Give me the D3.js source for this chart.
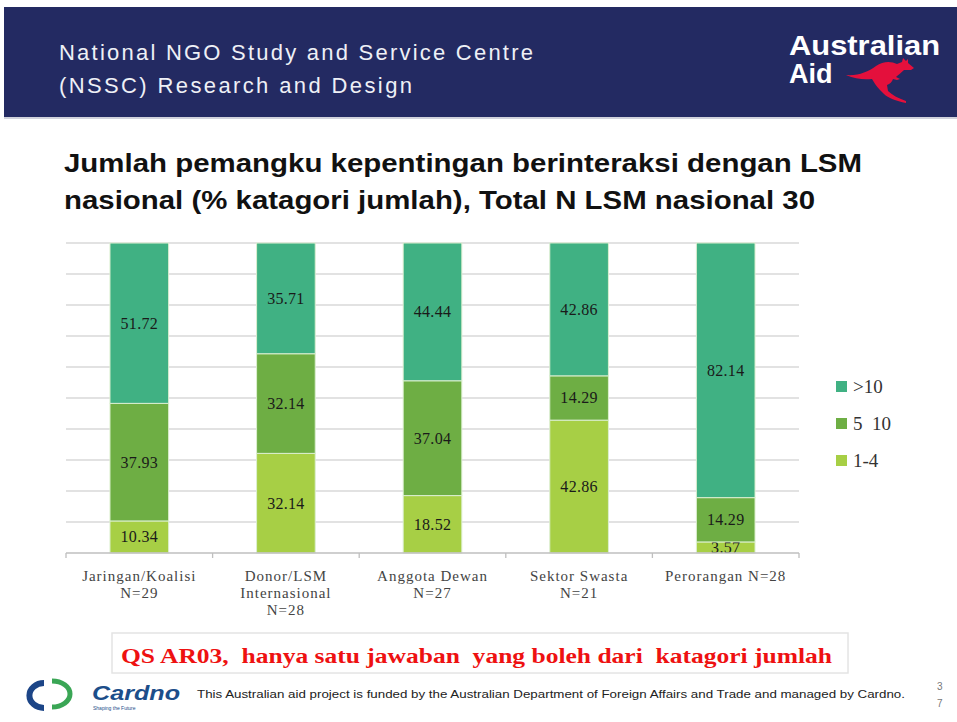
<!DOCTYPE html>
<html>
<head>
<meta charset="utf-8">
<script src="https://cdn.jsdelivr.net/npm/d3@7"></script>
<style>
  body { margin: 0; background: #fff; }
  svg { display: block; }
</style>
</head>
<body>
<svg id="chart" width="957" height="722"></svg>
<script>
// data
const categories = ["Jaringan/Koalisi", "Donor/LSM Internasional", "Anggota Dewan", "Sektor Swasta", "Perorangan"];
const cat_lines = [["Jaringan/Koalisi", "N=29"], ["Donor/LSM", "Internasional", "N=28"], ["Anggota Dewan", "N=27"], ["Sektor Swasta", "N=21"], ["Perorangan N=28"]];
const series_names = ["1-4", "5  10", ">10"];
const low_vals = [10.34, 32.14, 18.52, 42.86, 3.57];
const mid_vals = [37.93, 32.14, 37.04, 14.29, 14.29];
const high_vals = [51.72, 35.71, 44.44, 42.86, 82.14];
const y_ticks = [0, 10, 20, 30, 40, 50, 60, 70, 80, 90, 100];
const colors = ["#a7cf45", "#6eae44", "#40b183"];

const svg = d3.select("#chart");
const sans = "Liberation Sans, Arial, sans-serif";
const serif = "Liberation Serif, 'DejaVu Serif', serif";

// header band
svg.append("rect").attr("x", 4).attr("y", 7).attr("width", 953).attr("height", 110).attr("fill", "#232a62");
svg.append("rect").attr("x", 4).attr("y", 117).attr("width", 953).attr("height", 2).attr("fill", "#d0d2dc");
const head = svg.append("g").attr("fill", "#eef0f6")
    .style("font-family", sans).style("font-size", "22px");
head.append("text").attr("x", 59).attr("y", 60).attr("textLength", 474).attr("lengthAdjust", "spacing").text("National NGO Study and Service Centre");
head.append("text").attr("x", 59).attr("y", 93).attr("textLength", 353).attr("lengthAdjust", "spacing").text("(NSSC) Research and Design");

// Australian Aid logo
const logo = svg.append("g").style("font-family", sans)
    .style("font-weight", "bold").attr("fill", "#fff");
logo.append("text").attr("x", 789).attr("y", 55).style("font-size", "27px")
    .attr("textLength", 151).attr("lengthAdjust", "spacingAndGlyphs").text("Australian");
logo.append("text").attr("x", 789).attr("y", 83).style("font-size", "27px").text("Aid");
// kangaroo (rough silhouette): tail left, head right, legs down
svg.append("path").attr("fill", "#e4103c")
    .attr("d", "M846,75 C858,76 868,72 876,66 C883,61 891,61 897,64 L902,62 L903,58 L906,61 L908,59 L908,63 L914,68 L911,70 L904,70 C901,73 898,75 896,77 L900,79 L897,80 L893,79 C892,82 890,84 887,85 L888,91 C892,95 898,98 906,101 L906,103 C896,101 888,98 884,94 L880,90 C876,86 874,82 872,79 C864,80 855,79 846,75 Z");

// title
const title = svg.append("g").attr("fill", "#111")
    .style("font-family", sans).style("font-weight", "bold").style("font-size", "25px");
title.append("text").attr("x", 64).attr("y", 172).attr("textLength", 798).attr("lengthAdjust", "spacingAndGlyphs")
    .text("Jumlah pemangku kepentingan berinteraksi dengan LSM");
title.append("text").attr("x", 64).attr("y", 209).attr("textLength", 751).attr("lengthAdjust", "spacingAndGlyphs")
    .text("nasional (% katagori jumlah), Total N LSM nasional 30");

// scales
const x = d3.scaleBand().domain(categories).range([66, 799]).paddingInner(0.6).paddingOuter(0.3);
const y = d3.scaleLinear().domain([0, 100]).range([553, 243]);

// gridlines
svg.append("g").selectAll("line").data(y_ticks.slice(1)).enter().append("line")
    .attr("x1", 66).attr("x2", 799)
    .attr("y1", d => y(d)).attr("y2", d => y(d))
    .attr("stroke", "#d9d9d9").attr("stroke-width", 1.3);

// stacked bars
const rows = categories.map((c, i) => ({cat: c, "1-4": low_vals[i], "5  10": mid_vals[i], ">10": high_vals[i]}));
const stacked = d3.stack().keys(series_names)(rows);

stacked.forEach((layer, li) => {
    const g = svg.append("g");
    g.selectAll("rect").data(layer).enter().append("rect")
        .attr("x", d => x(d.data.cat))
        .attr("width", x.bandwidth())
        .attr("y", d => y(d[1]))
        .attr("height", d => y(d[0]) - y(d[1]))
        .attr("fill", colors[li])
        .attr("stroke", "#dcefd0").attr("stroke-width", 1);
    g.selectAll("text").data(layer).enter().append("text")
        .attr("x", d => x(d.data.cat) + x.bandwidth() / 2)
        .attr("y", d => (y(d[0]) + y(d[1])) / 2 + 5.5)
        .attr("text-anchor", "middle")
        .attr("fill", "#1a1a1a")
        .style("font-family", serif).style("font-size", "16px").style("letter-spacing", "0.3px")
        .text(d => (d[1] - d[0]).toFixed(2));
});

// x axis
const axis = svg.append("g");
axis.append("line").attr("x1", 66).attr("x2", 799).attr("y1", 553).attr("y2", 553).attr("stroke", "#bfbfbf").attr("stroke-width", 1.3);
const edges = d3.range(categories.length + 1).map(i => 66 + i * (733 / categories.length));
axis.selectAll("line.tick").data(edges).enter().append("line").attr("class", "tick")
    .attr("x1", d => d).attr("x2", d => d).attr("y1", 553).attr("y2", 558)
    .attr("stroke", "#bfbfbf").attr("stroke-width", 1.3);
categories.forEach((c, i) => {
    const t = axis.append("text").attr("text-anchor", "middle").attr("fill", "#444")
        .style("font-family", serif).style("font-size", "15px").style("letter-spacing", "1px");
    cat_lines[i].forEach((ln, j) => {
        t.append("tspan").attr("x", x(c) + x.bandwidth() / 2).attr("y", 581 + j * 17).text(ln);
    });
});

// legend
const legend_order = [">10", "5  10", "1-4"];
const lg = svg.append("g");
legend_order.forEach((name, i) => {
    const ci = series_names.indexOf(name);
    lg.append("rect").attr("x", 836).attr("y", 381 + i * 37).attr("width", 11).attr("height", 11).attr("fill", colors[ci]);
    lg.append("text").attr("x", 853).attr("y", 393 + i * 37).attr("fill", "#333")
        .style("font-family", serif).style("font-size", "19px").style("white-space", "pre")
        .attr("xml:space", "preserve").text(name);
});

// note box
svg.append("rect").attr("x", 112).attr("y", 633).attr("width", 736).attr("height", 40)
    .attr("fill", "#fff").attr("stroke", "#e4e4e4").attr("stroke-width", 1.5);
svg.append("text").attr("x", 121).attr("y", 663).attr("fill", "#ee1111")
    .attr("textLength", 711).attr("lengthAdjust", "spacingAndGlyphs")
    .style("font-family", serif).style("font-weight", "bold").style("font-size", "22px")
    .attr("xml:space", "preserve")
    .text("QS AR03,  hanya satu jawaban  yang boleh dari  katagori jumlah");

// footer: Cardno logo
svg.append("path").attr("d", "M44,683 A14,12 0 0 0 44,708").attr("fill", "none").attr("stroke", "#1c4587").attr("stroke-width", 6);
svg.append("path").attr("d", "M52,681 A18,13 0 0 1 52,707").attr("fill", "none").attr("stroke", "#3aa655").attr("stroke-width", 5);
svg.append("text").attr("x", 92).attr("y", 700).attr("fill", "#1c4e8a")
    .attr("textLength", 88).attr("lengthAdjust", "spacingAndGlyphs")
    .style("font-family", sans).style("font-weight", "bold").style("font-style", "italic").style("font-size", "20px")
    .text("Cardno");
svg.append("text").attr("x", 93).attr("y", 710).attr("fill", "#1c4e8a")
    .style("font-family", sans).style("font-size", "5px").text("Shaping the Future");
svg.append("text").attr("x", 197).attr("y", 698).attr("fill", "#222")
    .attr("textLength", 708).attr("lengthAdjust", "spacingAndGlyphs")
    .style("font-family", sans).style("font-size", "10px")
    .text("This Australian aid project is funded by the Australian Department of Foreign Affairs and Trade and managed by Cardno.");
svg.append("text").attr("x", 937).attr("y", 690).attr("fill", "#777").style("font-family", sans).style("font-size", "10px").text("3");
svg.append("text").attr("x", 937).attr("y", 707).attr("fill", "#777").style("font-family", sans).style("font-size", "10px").text("7");
</script>
</body>
</html>
